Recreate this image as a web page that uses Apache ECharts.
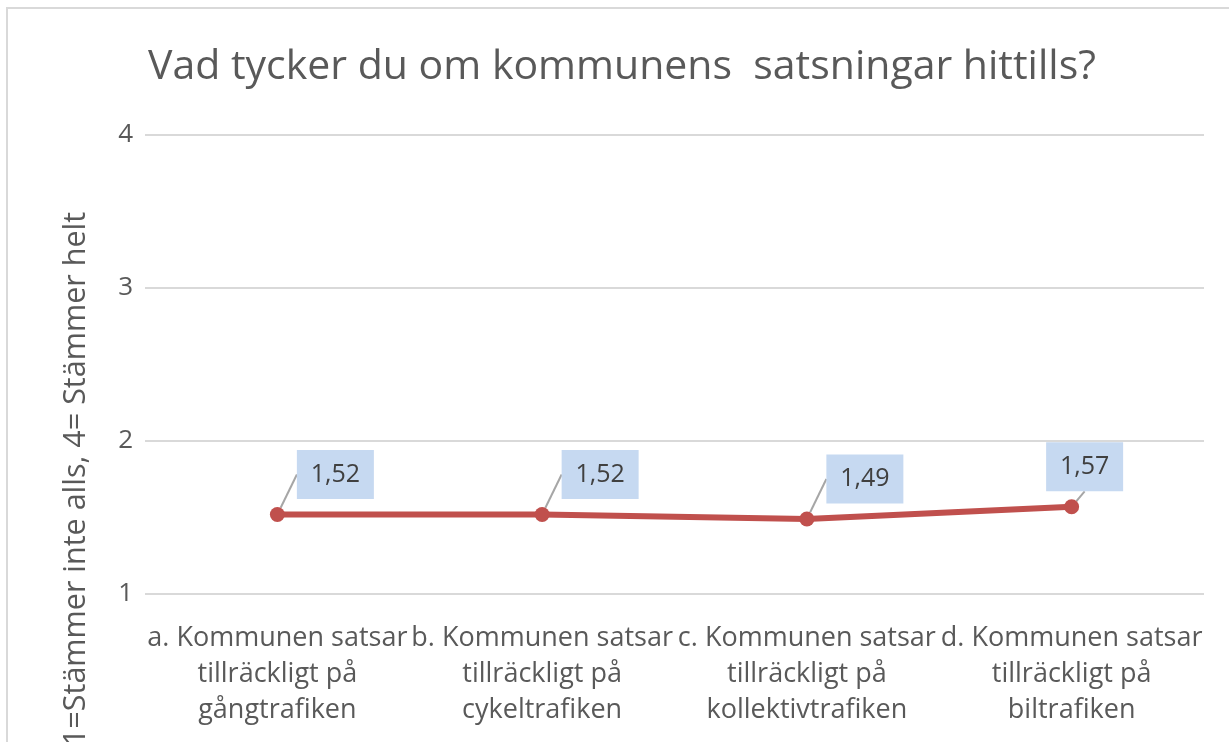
<!DOCTYPE html>
<html>
<head>
<meta charset="utf-8">
<script src="https://cdn.jsdelivr.net/npm/echarts@6/dist/echarts.min.js"></script>
<style>
html, body { margin: 0; padding: 0; background: #fff; }
#chart { width: 1229px; height: 742px; }
</style>
</head>
<body>
<div id="chart"></div>
<script>
// data
var categories = [
    'a. Kommunen satsar\ntillräckligt på\ngångtrafiken',
    'b. Kommunen satsar\ntillräckligt på\ncykeltrafiken',
    'c. Kommunen satsar\ntillräckligt på\nkollektivtrafiken',
    'd. Kommunen satsar\ntillräckligt på\nbiltrafiken'
];
var values = [1.52, 1.52, 1.49, 1.57];
var labelShift = [[58, -40], [58, -40], [58, -40], [13, -40]];

var titleText = 'Vad tycker du om kommunens  satsningar hittills?';
var yName = '1=Stämmer inte alls, 4= Stämmer helt';

var font = '"Open Sans", sans-serif';

myChart = echarts.init(document.getElementById('chart'));

option = {
    animation: false,
    title: {
        text: titleText,
        left: 143,
        top: 42,
        textStyle: { fontFamily: font, fontSize: 41, fontWeight: 'normal', color: '#595959' }
    },
    grid: { left: 145, right: 25, top: 135, bottom: 148, containLabel: false },
    xAxis: {
        type: 'category',
        data: categories,
        boundaryGap: true,
        axisLine: { show: false },
        axisTick: { show: false },
        axisLabel: {
            interval: 0,
            margin: 26,
            fontFamily: font,
            fontSize: 27,
            lineHeight: 36,
            color: '#595959'
        }
    },
    yAxis: {
        type: 'value',
        min: 1,
        max: 4,
        interval: 1,
        axisLine: { show: false },
        axisTick: { show: false },
        splitLine: { lineStyle: { color: '#d9d9d9', width: 2 } },
        axisLabel: { margin: 12, fontFamily: font, fontSize: 26, color: '#595959' }
    },
    graphic: [
        {
            type: 'rect',
            shape: { x: 7, y: 8, width: 1400, height: 900 },
            style: { fill: 'none', stroke: '#d9d9d9', lineWidth: 2 },
            silent: true
        },
        {
            type: 'text',
            x: 76,
            y: 479,
            rotation: Math.PI / 2,
            style: {
                text: yName,
                fontFamily: font,
                fontSize: 30.5,
                fill: '#595959',
                textAlign: 'center',
                textVerticalAlign: 'middle'
            }
        }
    ],
    series: [{
        type: 'line',
        data: values,
        symbol: 'circle',
        symbolSize: 15,
        lineStyle: { color: '#c0504d', width: 6 },
        itemStyle: { color: '#c0504d' },
        label: {
            show: true,
            position: 'inside',
            formatter: function (p) { return p.value.toFixed(2).replace('.', ','); },
            backgroundColor: '#c6d9f1',
            width: 77,
            height: 49,
            lineHeight: 49,
            align: 'center',
            verticalAlign: 'middle',
            fontFamily: font,
            fontSize: 25,
            color: '#404040'
        },
        labelLine: {
            show: true,
            lineStyle: { color: '#a6a6a6', width: 2 }
        },
        labelLayout: function (p) {
            var s = labelShift[p.dataIndex];
            return { dx: s[0], dy: s[1] };
        }
    }]
};

myChart.setOption(option);
</script>
</body>
</html>
